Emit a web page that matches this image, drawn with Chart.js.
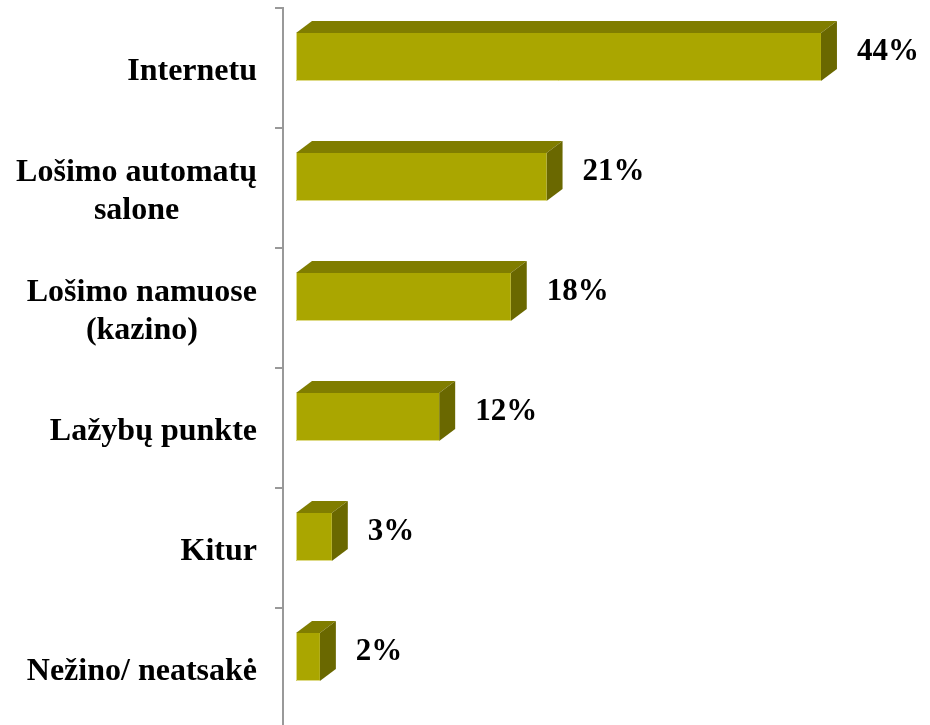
<!DOCTYPE html>
<html>
<head>
<meta charset="utf-8">
<script src="https://cdn.jsdelivr.net/npm/chart.js@4/dist/chart.umd.min.js"></script>
<style>
  html, body { margin: 0; padding: 0; background: #ffffff; overflow: hidden; }
  #wrap { position: absolute; left: 0; top: 0; width: 930px; height: 728px; }
</style>
</head>
<body>
<div id="wrap"><canvas id="c"></canvas></div>
<script>
// ---- data ----
const categories = [
  ["Internetu"],
  ["Lošimo automatų", "salone"],
  ["Lošimo namuose", "(kazino)"],
  ["Lažybų punkte"],
  ["Kitur"],
  ["Nežino/ neatsakė"]
];
const values = [44, 21, 18, 12, 3, 2];
const valueLabels = ["44%", "21%", "18%", "12%", "3%", "2%"];

// ---- styles ----
const FRONT = "rgb(170,166,0)";
const TOP = "rgb(128,125,0)";
const SIDE = "rgb(106,104,0)";
const DX = 16, DY = 12, SHIFT = 11;
const LABEL_FONT = "bold 32px 'Liberation Serif', 'Times New Roman', serif";
const VALUE_FONT = "bold 31px 'Liberation Serif', 'Times New Roman', serif";

const bar3d = {
  id: 'bar3d',
  afterDatasetsDraw(chart) {
    const ctx = chart.ctx;
    const meta = chart.getDatasetMeta(0);
    ctx.save();
    meta.data.forEach((bar) => {
      const p = bar.getProps(['x', 'y', 'base', 'height'], true);
      const top = p.y - SHIFT - p.height / 2;
      const bottom = top + p.height;
      const left = p.base, right = p.x;
      // top face
      ctx.beginPath();
      ctx.moveTo(left, top);
      ctx.lineTo(left + DX, top - DY);
      ctx.lineTo(right + DX, top - DY);
      ctx.lineTo(right, top);
      ctx.closePath();
      ctx.fillStyle = TOP;
      ctx.fill();
      // side face
      ctx.beginPath();
      ctx.moveTo(right, top);
      ctx.lineTo(right + DX, top - DY);
      ctx.lineTo(right + DX, bottom - DY);
      ctx.lineTo(right, bottom);
      ctx.closePath();
      ctx.fillStyle = SIDE;
      ctx.fill();
      // front face
      ctx.fillStyle = FRONT;
      ctx.fillRect(left, top, right - left, p.height);
      // subtle light edges
      ctx.strokeStyle = "rgba(235,232,170,0.8)";
      ctx.lineWidth = 1;
      ctx.beginPath();
      ctx.moveTo(left + 0.5, top);
      ctx.lineTo(left + 0.5, bottom - 0.5);
      ctx.lineTo(right, bottom - 0.5);
      ctx.stroke();
    });
    ctx.restore();
  },
  afterDraw(chart) {
    const ctx = chart.ctx;
    const yScale = chart.scales.y;
    const meta = chart.getDatasetMeta(0);
    ctx.save();
    ctx.fillStyle = "#000";
    ctx.textBaseline = "middle";
    // category labels: block right-aligned, lines centered within block
    ctx.font = LABEL_FONT;
    const lineH = 38;
    const blockRight = 257;
    categories.forEach((lines, i) => {
      const cy = yScale.getPixelForValue(i) + 4;
      const widest = Math.max(...lines.map(l => ctx.measureText(l).width));
      const cx = blockRight - widest / 2;
      ctx.textAlign = "center";
      const startY = cy - (lines.length - 1) * lineH / 2;
      lines.forEach((l, k) => ctx.fillText(l, cx, startY + k * lineH));
    });
    // value labels
    ctx.font = VALUE_FONT;
    ctx.textAlign = "left";
    meta.data.forEach((bar, i) => {
      const p = bar.getProps(['x', 'y'], true);
      ctx.fillText(valueLabels[i], p.x + 36, p.y - SHIFT - 5);
    });
    ctx.restore();
  }
};

new Chart(document.getElementById('c'), {
  type: 'bar',
  data: {
    labels: categories,
    datasets: [{
      data: values,
      backgroundColor: 'rgba(0,0,0,0)',
      borderWidth: 0,
      barThickness: 48
    }]
  },
  options: {
    indexAxis: 'y',
    responsive: true,
    maintainAspectRatio: false,
    devicePixelRatio: 1,
    animation: false,
    layout: { padding: { top: 8, bottom: 0, left: 0, right: 0 } },
    plugins: { legend: { display: false }, tooltip: { enabled: false } },
    scales: {
      x: {
        display: false,
        min: -1.09,
        max: 53.14
      },
      y: {
        position: 'left',
        afterFit: (s) => { s.width = 283; },
        ticks: { display: false },
        grid: {
          offset: true,
          drawOnChartArea: false,
          drawTicks: true,
          tickLength: 8,
          color: '#999999',
          lineWidth: 2
        },
        border: { display: true, color: '#999999', width: 2 }
      }
    }
  },
  plugins: [bar3d]
});
</script>
</body>
</html>
